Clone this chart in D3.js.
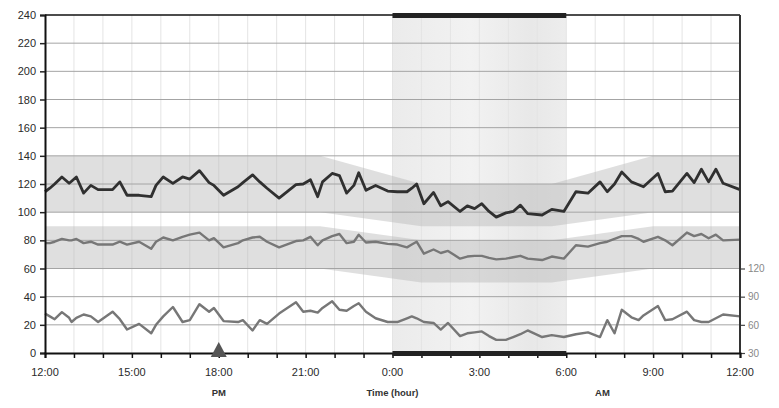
<!DOCTYPE html>
<html><head><meta charset="utf-8">
<script src="https://cdn.jsdelivr.net/npm/d3@7"></script>
<style>
html,body{margin:0;padding:0;background:#fff;}
svg{display:block;font-family:"Liberation Sans",Arial,sans-serif;}
</style></head>
<body><svg id="c" width="779" height="408"></svg>
<script>
// minutes after 12:00 (noon)
const times = [0,10,20,35,50,55,65,80,95,110,140,155,170,195,220,230,245,265,285,300,320,340,350,370,400,410,430,445,460,485,520,535,550,565,575,595,610,625,640,650,665,685,710,730,750,760,770,785,805,820,835,860,875,890,905,920,935,955,970,985,1000,1030,1050,1075,1100,1125,1150,1165,1180,1195,1215,1230,1240,1270,1285,1300,1330,1345,1360,1375,1390,1405,1440];
const systolic = [114.5,117,120,125,120.5,122,125,113.5,119,116,116,121.5,112,112,111,119,125,120.5,125,123.5,129.5,121,119,112,118,121,126.5,121.5,117,110,119.5,120,123,111,121.5,127.5,126,113.5,119,128,115.5,119,115,114.5,114.5,117,120,106,114,104.5,107.5,100.5,104.5,102.5,106,100.5,96.5,99.5,100.5,105,99,98,102,100.5,114.5,113.5,121.5,114.5,120,128.5,121.5,119.5,118,127.5,114.5,115,127.5,121,130.5,121.5,130.5,120.5,116];
const diastolic = [78,78,79,81,80,80,81,78,79,77,77,79,77,79,74,79,82,80,82.5,84,85.5,80,81.5,75,78,80,82,82.5,79,75,79.5,80,82.5,76.5,80,83,84.5,78,79,84,78.5,79,77.5,77,75,77,79,70.5,73.5,71,72.5,67,68.5,69,69,67.5,66.5,67,68,69,67,66,68.5,67,76.5,75.5,78,79,81,83,83,81,79,82.5,80,76.5,85.5,83,84.5,81.5,84,80,80.5];
const heartRate = [72,69,66,73.5,67.5,63,67.5,71,69,63,74,66,55,61,51,60,69,79,63,65,82,74,78,64,63,65,54,65,61,72,84,74,75,73,78,85,76,75,80,83,74,67,63,63,67,69,67,63,62,55,62,48,51,52,53,48,44,44,47,50,54,47,49,47,50,52,47,65,51,76,68,65,70,80,65,66,74,65,63,63,67,71,69];

// reference bands (minutes after noon)
const bandTimes = [0,570,780,1050,1260,1440];
const sysBandHigh = [140,140,120,120,140,140];
const sysBandLow  = [100,100,90,90,100,100];
const diaBandHigh = [90,90,80,80,90,90];
const diaBandLow  = [60,60,50,50,60,60];

const nightPeriod = [720,1080];
const markerTimes = [360];

const xTickValues = [0,180,360,540,720,900,1080,1260,1440];
const xTickLabels = ["12:00","15:00","18:00","21:00","0:00","3:00","6:00","9:00","12:00"];
const yTicks = [0,20,40,60,80,100,120,140,160,180,200,220,240];
const hrTicks = [30,60,90,120];
const periodLabels = [{t:360,text:"PM"},{t:720,text:"Time (hour)"},{t:1155,text:"AM"}];

const svg = d3.select("#c");
const L=45,R=740,T=15,B=353;
const x = d3.scaleLinear().domain([0,1440]).range([L,R]);
const y = d3.scaleLinear().domain([0,240]).range([B,T]);
const yHR = d3.scaleLinear().domain([30,120]).range([B,y(60)]);

// night background gradient
const defs = svg.append("defs");
const g1 = defs.append("linearGradient").attr("id","night").attr("x1","0").attr("x2","1").attr("y1","0").attr("y2","0");
[["0%","#ebebeb"],["45%","#f2f2f2"],["80%","#e8e8e8"],["100%","#ededed"]].forEach(s=>g1.append("stop").attr("offset",s[0]).attr("stop-color",s[1]));
svg.append("rect").attr("x",x(nightPeriod[0])).attr("y",T).attr("width",x(nightPeriod[1])-x(nightPeriod[0])).attr("height",B-T).attr("fill","url(#night)");

// vertical hourly grid
svg.append("g").selectAll("line").data(d3.range(60,1440,60)).join("line")
  .attr("x1",d=>x(d)).attr("x2",d=>x(d)).attr("y1",T).attr("y2",B)
  .attr("stroke","#e4e4e4").attr("stroke-width",1);

// bands
const bandIdx = d3.range(bandTimes.length);
const bandArea = (hi,lo)=>d3.area().x(i=>x(bandTimes[i])).y0(i=>y(lo[i])).y1(i=>y(hi[i]))(bandIdx);
svg.append("path").attr("d",bandArea(sysBandHigh,sysBandLow)).attr("fill","#b8b8b8").attr("fill-opacity",0.45);
svg.append("path").attr("d",bandArea(diaBandHigh,diaBandLow)).attr("fill","#b8b8b8").attr("fill-opacity",0.45);

// horizontal grid
svg.append("g").selectAll("line").data(yTicks.filter(d=>d>0&&d<240)).join("line")
  .attr("x1",L).attr("x2",R).attr("y1",d=>y(d)).attr("y2",d=>y(d))
  .attr("stroke","#a4a4a4").attr("stroke-width",1);

// series
const idx = d3.range(times.length);
const line = (vals,sc)=>d3.line().x(i=>x(times[i])).y(i=>sc(vals[i]))(idx);
svg.append("path").attr("d",line(heartRate,yHR)).attr("fill","none").attr("stroke","#777").attr("stroke-width",2.4).attr("stroke-linejoin","round");
svg.append("path").attr("d",line(diastolic,y)).attr("fill","none").attr("stroke","#777").attr("stroke-width",2.4).attr("stroke-linejoin","round");
svg.append("path").attr("d",line(systolic,y)).attr("fill","none").attr("stroke","#303030").attr("stroke-width",2.8).attr("stroke-linejoin","round");

// top border
svg.append("line").attr("x1",L).attr("x2",R).attr("y1",T).attr("y2",T).attr("stroke","#111").attr("stroke-width",1.5);

// axes
const axL = svg.append("g").attr("transform",`translate(${L},0)`).call(d3.axisLeft(y).tickValues(yTicks).tickSize(5).tickPadding(4));
axL.select(".domain").attr("stroke","#111").attr("stroke-width",2);
axL.selectAll(".tick line").attr("stroke","#222").attr("stroke-width",1.5);
axL.selectAll("text").attr("fill","#2a2a2a").attr("font-size","11px");

const axR = svg.append("g").attr("transform",`translate(${R},0)`).call(d3.axisRight(yHR).tickValues(hrTicks).tickSize(5).tickPadding(3));
axR.select(".domain").remove();
axR.selectAll(".tick line").attr("stroke","#444").attr("stroke-width",1.2);
axR.selectAll("text").attr("fill","#888").attr("font-size","10px");
svg.append("line").attr("x1",R).attr("x2",R).attr("y1",T).attr("y2",B).attr("stroke","#333").attr("stroke-width",2);

const axB = svg.append("g").attr("transform",`translate(0,${B})`).call(d3.axisBottom(x).tickValues(d3.range(0,1441,60)).tickSize(5).tickFormat(""));
axB.select(".domain").attr("stroke","#111").attr("stroke-width",2);
axB.selectAll(".tick line").attr("stroke","#111").attr("stroke-width",1.5);
svg.append("g").selectAll("text").data(xTickValues).join("text")
  .attr("x",d=>x(d)).attr("y",376).attr("text-anchor","middle").attr("fill","#2a2a2a").attr("font-size","11px")
  .text((d,i)=>xTickLabels[i]);

svg.append("g").selectAll("text").data(periodLabels).join("text")
  .attr("x",d=>x(d.t)).attr("y",396).attr("text-anchor","middle").attr("fill","#333")
  .attr("font-size","9.5px").attr("font-weight","bold").text(d=>d.text);

// night bars
svg.append("rect").attr("x",x(nightPeriod[0])).attr("y",T-2).attr("width",x(nightPeriod[1])-x(nightPeriod[0])).attr("height",5).attr("fill","#222");
svg.append("rect").attr("x",x(nightPeriod[0])).attr("y",B-2).attr("width",x(nightPeriod[1])-x(nightPeriod[0])).attr("height",5).attr("fill","#222");

// marker
svg.append("g").selectAll("path").data(markerTimes).join("path")
  .attr("d",d=>`M${x(d)},${B-11}L${x(d)+8},${B+4}L${x(d)-8},${B+4}Z`).attr("fill","#555");
</script></body></html>
